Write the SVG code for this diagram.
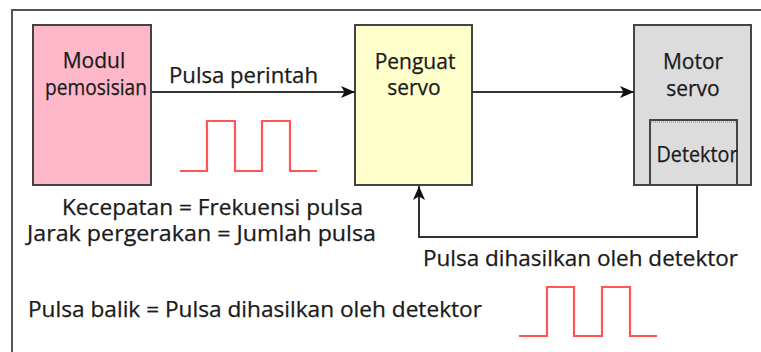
<svg xmlns="http://www.w3.org/2000/svg" width="761" height="352" viewBox="0 0 761 352">
  <style>
    .box { stroke: #444; stroke-width: 2; }
    .lbl { font-family: "Open Sans", "Noto Sans", sans-serif; font-size: 21px; fill: #1a1a1a; stroke: #1a1a1a; stroke-width: 0.25; }
    .mid { text-anchor: middle; }
    .wire { fill: none; stroke: #333; stroke-width: 2; }
    .pulse { fill: none; stroke: #ff5555; stroke-width: 2.2; }
  </style>
  <defs>
    <marker id="arrow" viewBox="0 0 14 12" refX="14" refY="6" markerWidth="14" markerHeight="12" markerUnits="userSpaceOnUse" orient="auto">
      <path d="M0,0 L14,6 L0,12 L3.5,6 Z" fill="#111"/>
    </marker>
  </defs>

  <rect width="761" height="352" fill="#fff"/>
  <!-- outer frame -->
  <rect x="12" y="10" width="760" height="350" fill="none" stroke="#555" stroke-width="2"/>

  <g id="modul-pemosisian">
    <rect class="box" x="33" y="25" width="118" height="160" fill="#ffb7ca"/>
    <text class="lbl mid" x="94" y="68">Modul</text>
    <text class="lbl mid" x="96" y="95" textLength="102" lengthAdjust="spacingAndGlyphs">pemosisian</text>
  </g>

  <g id="penguat-servo">
    <rect class="box" x="355" y="25" width="117" height="160" fill="#ffffcc"/>
    <text class="lbl mid" x="415" y="69">Penguat</text>
    <text class="lbl mid" x="414" y="95">servo</text>
  </g>

  <g id="motor-servo">
    <rect class="box" x="634" y="25" width="117" height="160" fill="#dcdcdc"/>
    <text class="lbl mid" x="693" y="69">Motor</text>
    <text class="lbl mid" x="693" y="96">servo</text>
    <g id="detektor">
      <path d="M650,185 V120 H737 V185" fill="none" stroke="#444" stroke-width="2"/>
      <line x1="651" y1="122" x2="736" y2="122" stroke="#888" stroke-width="1" stroke-dasharray="1 1"/>
      <text class="lbl mid" x="697" y="162" textLength="81" lengthAdjust="spacingAndGlyphs">Detektor</text>
    </g>
  </g>

  <g id="connectors">
    <line class="wire" x1="151" y1="92" x2="355" y2="92" marker-end="url(#arrow)"/>
    <line class="wire" x1="472" y1="92" x2="634" y2="92" marker-end="url(#arrow)"/>
    <path class="wire" d="M697,185 V237 H419 V186" marker-end="url(#arrow)"/>
  </g>

  <!-- labels -->
  <text class="lbl" x="169" y="83" textLength="149" lengthAdjust="spacingAndGlyphs">Pulsa perintah</text>
  <text class="lbl" x="62" y="215" textLength="301" lengthAdjust="spacingAndGlyphs">Kecepatan = Frekuensi pulsa</text>
  <text class="lbl" x="27" y="241" textLength="349" lengthAdjust="spacingAndGlyphs">Jarak pergerakan = Jumlah pulsa</text>
  <text class="lbl" x="423" y="266" textLength="315" lengthAdjust="spacingAndGlyphs">Pulsa dihasilkan oleh detektor</text>
  <text class="lbl" x="28" y="317" textLength="454" lengthAdjust="spacingAndGlyphs">Pulsa balik = Pulsa dihasilkan oleh detektor</text>

  <!-- pulse trains -->
  <path class="pulse" d="M180,171 H207 V121 H235 V171 H262 V121 H290 V171 H317"/>
  <path class="pulse" d="M519,336 H547 V287 H574 V336 H602 V287 H630 V336 H657"/>
</svg>
